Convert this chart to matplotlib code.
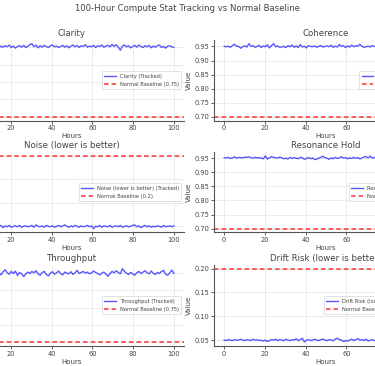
import numpy as np
import matplotlib
matplotlib.use("Agg")
import matplotlib.pyplot as plt

hours = np.linspace(0, 100, 100)

clarity = [0.952,0.955,0.949,0.953,0.957,0.951,0.954,0.948,0.955,0.952,
0.958,0.950,0.953,0.956,0.949,0.954,0.951,0.955,0.952,0.957,
0.950,0.954,0.948,0.953,0.955,0.951,0.956,0.950,0.953,0.958,
0.961,0.952,0.957,0.949,0.955,0.951,0.956,0.953,0.950,0.955,
0.957,0.952,0.954,0.950,0.953,0.956,0.951,0.955,0.949,0.954,
0.957,0.952,0.956,0.950,0.955,0.953,0.958,0.951,0.954,0.952,
0.956,0.950,0.955,0.953,0.957,0.951,0.954,0.956,0.952,0.959,
0.953,0.958,0.951,0.942,0.954,0.957,0.952,0.955,0.949,0.953,
0.956,0.951,0.957,0.953,0.950,0.955,0.952,0.956,0.949,0.954,
0.951,0.955,0.957,0.950,0.953,0.948,0.954,0.955,0.952,0.950]

coherence = [0.950,0.949,0.951,0.947,0.953,0.958,0.951,0.950,0.944,0.949,
0.952,0.948,0.960,0.951,0.953,0.947,0.950,0.954,0.946,0.952,
0.949,0.956,0.945,0.953,0.960,0.949,0.952,0.947,0.948,0.951,
0.946,0.953,0.949,0.955,0.947,0.952,0.946,0.957,0.948,0.951,
0.945,0.953,0.950,0.949,0.952,0.947,0.951,0.953,0.948,0.950,
0.952,0.949,0.954,0.947,0.951,0.948,0.957,0.950,0.953,0.946,
0.952,0.948,0.955,0.949,0.953,0.951,0.958,0.950,0.947,0.949,
0.951,0.948,0.953,0.950,0.952,0.947,0.951,0.955,0.949,0.952,
0.948,0.953,0.950,0.946,0.952,0.949,0.954,0.951,0.947,0.950,
0.953,0.948,0.951,0.955,0.949,0.952,0.947,0.950,0.953,0.949]

noise = [0.051,0.049,0.052,0.048,0.050,0.053,0.049,0.051,0.047,0.050,
0.052,0.049,0.051,0.048,0.050,0.052,0.047,0.051,0.049,0.052,
0.048,0.050,0.051,0.049,0.052,0.048,0.050,0.051,0.049,0.050,
0.052,0.048,0.053,0.050,0.049,0.051,0.048,0.052,0.050,0.049,
0.051,0.048,0.050,0.052,0.049,0.051,0.053,0.050,0.048,0.051,
0.049,0.052,0.050,0.048,0.051,0.049,0.050,0.052,0.049,0.051,
0.045,0.050,0.049,0.052,0.048,0.051,0.050,0.049,0.052,0.048,
0.050,0.051,0.049,0.052,0.048,0.050,0.051,0.049,0.050,0.052,
0.053,0.049,0.051,0.047,0.050,0.052,0.049,0.051,0.048,0.050,
0.049,0.051,0.050,0.048,0.052,0.049,0.050,0.051,0.049,0.051]

resonance = [0.952,0.951,0.953,0.949,0.951,0.955,0.950,0.953,0.952,0.951,
0.954,0.953,0.955,0.952,0.950,0.953,0.951,0.952,0.950,0.948,
0.958,0.947,0.951,0.955,0.953,0.952,0.950,0.954,0.951,0.948,
0.950,0.947,0.953,0.949,0.952,0.950,0.948,0.953,0.951,0.946,
0.949,0.952,0.948,0.951,0.945,0.947,0.950,0.953,0.957,0.952,
0.950,0.946,0.951,0.948,0.953,0.949,0.951,0.955,0.950,0.952,
0.948,0.951,0.949,0.953,0.950,0.952,0.947,0.951,0.954,0.956,
0.951,0.958,0.950,0.953,0.948,0.951,0.954,0.949,0.952,0.950,
0.947,0.953,0.950,0.955,0.949,0.952,0.948,0.951,0.954,0.950,
0.952,0.949,0.953,0.950,0.951,0.954,0.948,0.952,0.950,0.953]

throughput = [0.952,0.946,0.958,0.949,0.943,0.955,0.961,0.948,0.951,0.944,
0.957,0.950,0.946,0.959,0.952,0.945,0.954,0.960,0.951,0.947,
0.955,0.949,0.956,0.943,0.952,0.948,0.940,0.947,0.953,0.949,
0.955,0.951,0.957,0.948,0.944,0.952,0.955,0.946,0.942,0.950,
0.954,0.947,0.951,0.956,0.949,0.945,0.953,0.950,0.948,0.954,
0.946,0.951,0.958,0.949,0.952,0.955,0.950,0.953,0.948,0.951,
0.956,0.952,0.949,0.945,0.950,0.953,0.947,0.941,0.949,0.955,
0.951,0.957,0.952,0.948,0.963,0.955,0.950,0.946,0.952,0.948,
0.944,0.951,0.955,0.949,0.953,0.957,0.951,0.948,0.956,0.950,
0.946,0.952,0.949,0.955,0.958,0.947,0.944,0.951,0.959,0.949]

drift = [0.050,0.049,0.051,0.050,0.049,0.051,0.050,0.050,0.052,0.050,
0.049,0.051,0.050,0.049,0.052,0.050,0.051,0.049,0.050,0.048,
0.050,0.047,0.049,0.051,0.050,0.052,0.049,0.051,0.050,0.049,
0.052,0.050,0.049,0.051,0.050,0.053,0.049,0.051,0.054,0.046,
0.050,0.051,0.049,0.050,0.052,0.050,0.049,0.051,0.052,0.050,
0.049,0.051,0.050,0.049,0.052,0.054,0.051,0.050,0.047,0.049,
0.048,0.050,0.052,0.049,0.051,0.053,0.050,0.051,0.049,0.052,
0.048,0.050,0.051,0.049,0.050,0.052,0.049,0.051,0.050,0.048,
0.050,0.052,0.049,0.051,0.050,0.049,0.052,0.050,0.051,0.049,
0.050,0.051,0.049,0.052,0.050,0.049,0.051,0.050,0.052,0.050]

stat_names = ["Clarity", "Coherence", "Noise (lower is better)",
              "Resonance Hold", "Throughput", "Drift Risk (lower is better)"]
stat_series = [clarity, coherence, noise, resonance, throughput, drift]
baselines = [0.75, 0.70, 0.2, 0.70, 0.75, 0.2]

W, H = 375, 366
fig = plt.figure(figsize=(W / 100, H / 100), dpi=100)
fig.patch.set_facecolor("white")

col_left = [-40, 214]
ax_w = 224
rows = [(40, 120.5), (152.3, 232.3), (265, 345.7)]

text_color = "#444444"
fig.text(0.5, 1 - 8.5 / H, "100-Hour Compute Stat Tracking vs Normal Baseline",
         ha="center", va="center", fontsize=6.1, color=text_color)

for i, (name, vals, base) in enumerate(zip(stat_names, stat_series, baselines)):
    r, c = divmod(i, 2)
    top, bot = rows[r]
    ax = fig.add_axes([col_left[c] / W, 1 - bot / H, ax_w / W, (bot - top) / H])
    ax.plot(hours, vals, color="#2020ff", alpha=0.75, lw=1.0, label=f"{name} (Tracked)")
    ax.axhline(base, color="red", ls=(0, (3, 2)), lw=1.1, alpha=0.8,
               label=f"Normal Baseline ({base})")
    ax.set_title(name, fontsize=6.2, color=text_color, pad=3)
    ax.set_xlabel("Hours", fontsize=5, color=text_color, labelpad=1.5)
    ax.set_ylabel("Value", fontsize=5, color=text_color, labelpad=2)
    ax.grid(True, color="#e8e8e8", lw=0.6)
    ax.set_axisbelow(True)
    for s in ["top", "right"]:
        ax.spines[s].set_visible(False)
    for s in ["left", "bottom"]:
        ax.spines[s].set_color("#555555")
        ax.spines[s].set_linewidth(0.8)
    ax.tick_params(labelsize=4.8, colors=text_color, length=2, width=0.6, pad=1.5)
    leg = ax.legend(loc="center right", fontsize=3.7, frameon=True,
                    handlelength=2.2, borderpad=0.5, labelspacing=0.5)
    leg.get_frame().set_edgecolor("#cccccc")
    leg.get_frame().set_linewidth(0.5)
    for t in leg.get_texts():
        t.set_color(text_color)

fig.savefig("out.png", dpi=100)
